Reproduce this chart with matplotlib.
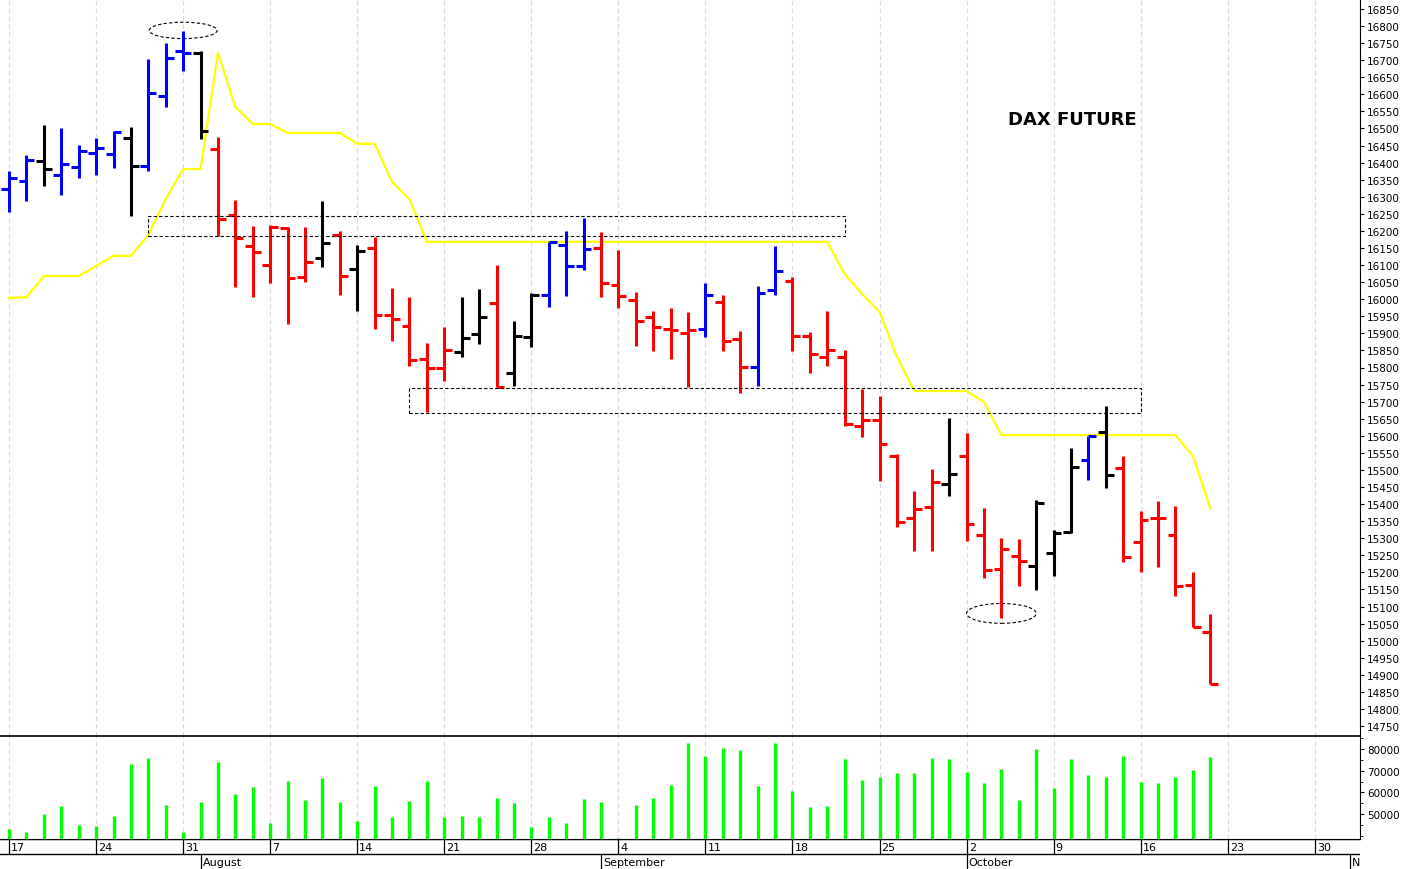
import matplotlib
matplotlib.use("Agg")
import matplotlib.pyplot as plt
from matplotlib.patches import Rectangle, Ellipse
import numpy as np

opens  = [16323,16346,16405,16364,16387,16428,16425,16472,16390,16595,16727,16721,16440,16247,16156,16100,16209,16065,
          16121,16188,16088,16150,15954,15922,15825,15798,15845,15898,15989,15784,15889,16012,16159,16097,16150,16042,
          15998,15948,15913,15901,15913,15992,15883,15801,16027,16053,15892,15831,15831,15629,15646,15541,15359,15391,
          15459,15541,15309,15210,15248,15219,15257,15318,15529,15611,15506,15289,15359,15309,15163,15025]
highs  = [16375,16422,16510,16501,16452,16472,16493,16504,16704,16750,16786,16727,16475,16291,16214,16217,16211,16211,
          16288,16200,16159,16182,16033,16006,15872,15919,16006,16030,16100,15936,16018,16168,16200,16238,16197,16144,
          16021,15965,15974,15963,16047,16012,15907,16039,16156,16065,15904,15965,15851,15737,15716,15547,15438,15503,
          15652,15608,15388,15301,15298,15412,15324,15564,15599,15687,15541,15380,15409,15394,15201,15078]
lows   = [16255,16288,16332,16305,16355,16364,16384,16244,16375,16563,16668,16469,16185,16036,16006,16047,15927,16050,
          16094,16012,15965,15913,15878,15804,15670,15760,15831,15869,15743,15746,15860,15977,16009,16086,16006,15974,
          15863,15848,15825,15743,15889,15848,15725,15746,16012,15848,15784,15804,15629,15596,15468,15333,15262,15262,
          15424,15292,15183,15066,15160,15148,15189,15315,15470,15447,15230,15201,15216,15131,15040,14873]
closes = [16355,16408,16381,16396,16434,16443,16490,16390,16604,16706,16721,16493,16235,16179,16138,16211,16062,16109,
          16165,16068,16141,15954,15942,15822,15798,15851,15886,15948,15743,15892,16012,16168,16097,16147,16047,16009,
          15936,15919,15910,15910,16012,15878,15801,16018,16083,15892,15840,15851,15634,15646,15576,15347,15385,15465,
          15488,15342,15207,15268,15233,15403,15315,15509,15599,15485,15245,15353,15359,15160,15040,14873]
trend  = list("uunuuuunuuun" "dddddd" "n" "d" "n" "ddddd" "nn" "d" "nn" "uuu" "dddddd" "u" "dd" "uu"
              "ddddddddd" "n" "dddd" "nnn" "u" "n" "dddddd")
stop_line = [16004,16006,16068,16068,16068,16097,16127,16127,16188,16293,16381,16381,16721,16563,16513,16513,16487,16487,
             16487,16487,16455,16455,16343,16293] + [16168]*24 + [16074,16015,15963,15831,15731,15731,15731,15731,15699] \
            + [15602]*11 + [15541,15388]
volume = [43080,41700,50000,53700,44930,44470,49080,73080,75850,54160,41700,55540,74000,59230,62460,45850,65230,56460,
          66620,55540,46770,62920,48620,56000,65230,48620,49080,48620,57390,55080,44000,48620,45850,56920,55540,38930,
          54160,57390,63390,82770,76770,80460,79540,62920,82770,60620,53230,53690,75380,65690,67080,68920,68920,75850,
          75380,69380,64310,70770,56460,80000,62000,75380,68000,67080,76770,64770,64310,67080,70310,76310]
week_ticks = [0,5,10,15,20,25,30,35,40,45,50,55,60,65,70,75]
week_labels = ["17","24","31","7","14","21","28","4","11","18","25","2","9","16","23","30"]
month_pos = [11,34,55,77]
month_labels = ["August","September","October","N"]
box1 = (8, 48, 16185, 16244)
box2 = (23, 65, 15667, 15740)

colmap = {"u": "#0000ff", "d": "#ff0000", "n": "#000000"}
n = len(opens)
x = np.arange(n)
xl = (-0.52, 77.6)

fig = plt.figure(figsize=(14.08, 8.7), dpi=100)
W, H = 1408, 870
ax = fig.add_axes([0, (H-737)/H, 1360/W, 737/H])
axv = fig.add_axes([0, (H-840)/H, 1360/W, 103/H])
axd = fig.add_axes([0, 0, 1360/W, 30/H])

for a in (ax, axv):
    a.set_xlim(*xl)
    for t in week_ticks:
        a.axvline(t, color="#d8d8d8", lw=0.8, ls=(0, (4, 3)), zorder=0)
    a.spines["left"].set_visible(False)
    a.yaxis.tick_right()
    a.tick_params(axis="y", labelsize=7.5, length=3, pad=2)
    a.set_xticks([])
ax.spines["top"].set_visible(False)
ax.spines["bottom"].set_visible(False)
axv.spines["top"].set_color("black")
axv.spines["top"].set_linewidth(1.2)

ax.set_ylim(14721, 16879)
ax.set_yticks(np.arange(14750, 16851, 50))
cols = [colmap[t] for t in trend]
ax.vlines(x, lows, highs, colors=cols, lw=2.2, zorder=3)
ax.hlines(opens, x-0.45, x, colors=cols, lw=2.2, zorder=3)
ax.hlines(closes, x, x+0.45, colors=cols, lw=2.2, zorder=3)
ax.plot(x, stop_line, color="#ffff00", lw=1.6, zorder=2)
for (x0, x1, y0, y1) in (box1, box2):
    ax.add_patch(Rectangle((x0, y0), x1-x0, y1-y0, fill=False, ls=(0, (3, 2)), lw=0.8, ec="black", zorder=4))
ax.add_patch(Ellipse((10, 16787), 3.9, 48, fill=False, ls=(0, (3, 2)), lw=0.8, ec="black"))
ax.add_patch(Ellipse((57, 15080), 4.0, 58, fill=False, ls=(0, (3, 2)), lw=0.8, ec="black"))
ax.text(61.1, 16528, "DAX FUTURE", fontsize=13, fontweight="bold", ha="center", va="center")

axv.set_ylim(38465, 86000)
axv.set_yticks([50000, 60000, 70000, 80000])
axv.set_yticks(np.arange(40000, 86000, 5000), minor=True)
axv.tick_params(axis="y", which="minor", length=2)
axv.vlines(x, 38465, volume, colors="#00ff00", lw=2.4, zorder=3)

axd.set_xlim(*xl)
axd.set_ylim(0, 2)
axd.axis("off")
axd.axhline(1.0, color="black", lw=1)
axd.axhline(1.97, color="black", lw=1)
for t, lab in zip(week_ticks, week_labels):
    axd.vlines(t, 1, 2, color="black", lw=0.9)
    axd.text(t+0.12, 1.48, lab, fontsize=8, ha="left", va="center")
for t, lab in zip(month_pos, month_labels):
    axd.vlines(t, 0, 1, color="black", lw=0.9)
    axd.text(t+0.12, 0.45, lab, fontsize=8, ha="left", va="center")

fig.savefig("out.png", dpi=100)
